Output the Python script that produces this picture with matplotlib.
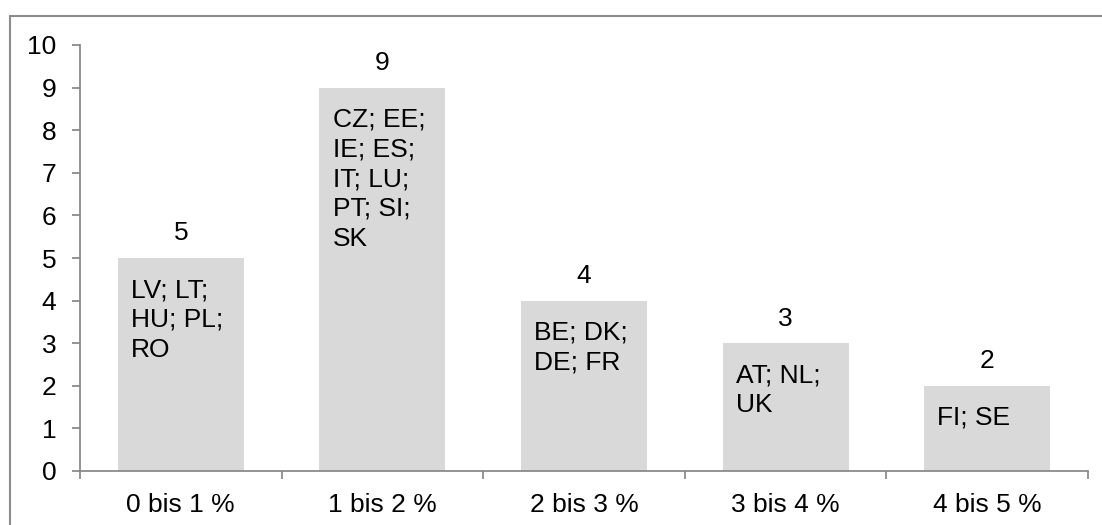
import matplotlib
matplotlib.use("Agg")
import matplotlib.pyplot as plt
from matplotlib.patches import Rectangle

plt.rcParams['font.family'] = ['Liberation Sans', 'DejaVu Sans']

# data
categories = ['0 bis 1 %', '1 bis 2 %', '2 bis 3 %', '3 bis 4 %', '4 bis 5 %']
counts = [5, 9, 4, 3, 2]
countries = ['LV; LT;\nHU; PL;\nRO',
             'CZ; EE;\nIE; ES;\nIT; LU;\nPT; SI;\nSK',
             'BE; DK;\nDE; FR',
             'AT; NL;\nUK',
             'FI; SE']

grey = '#868686'
bar_w = 0.625

fig = plt.figure(figsize=(11.02, 5.25), dpi=100)
ax = fig.add_axes([80 / 1102, 54 / 525, 1008 / 1102, 426 / 525])

x = list(range(len(categories)))
bars = ax.bar(x, counts, width=bar_w, color='#D9D9D9', zorder=2)

# value labels above the bars
for xi, v in zip(x, counts):
    ax.annotate(str(v), (xi, v), xytext=(0, 9), textcoords='offset points',
                ha='center', va='bottom', fontsize=19)

# country codes inside the bars, top-left
for xi, v, txt in zip(x, counts, countries):
    ax.annotate(txt, (xi - bar_w / 2, v), xytext=(9.5, -14.5),
                textcoords='offset points', ha='left', va='top',
                fontsize=19, linespacing=1.3)

ax.set_xlim(-0.5, len(categories) - 0.5)
ax.set_ylim(0, 10)
ax.set_yticks(range(0, 11))

# category labels centred, tick marks on the boundaries
ax.set_xticks(x)
ax.set_xticklabels(categories)
ax.set_xticks([i - 0.5 for i in range(len(categories) + 1)], minor=True)
ax.tick_params(axis='x', which='major', length=0, pad=16, labelsize=19)
ax.tick_params(axis='x', which='minor', length=6, width=1.25, color=grey)
ax.tick_params(axis='y', length=6, width=1.25, color=grey, pad=11, labelsize=19)

for side in ['top', 'right']:
    ax.spines[side].set_visible(False)
for side in ['left', 'bottom']:
    ax.spines[side].set_color(grey)
    ax.spines[side].set_linewidth(1.25)

# outer chart border (runs off the right and bottom edges)
fig.patches.append(Rectangle((10 / 1102, -0.1), 1.2, (525 - 16) / 525 + 0.1,
                             transform=fig.transFigure, fill=False,
                             edgecolor='#8C8C8C', linewidth=1.5))

fig.savefig('out.png', dpi=100)
